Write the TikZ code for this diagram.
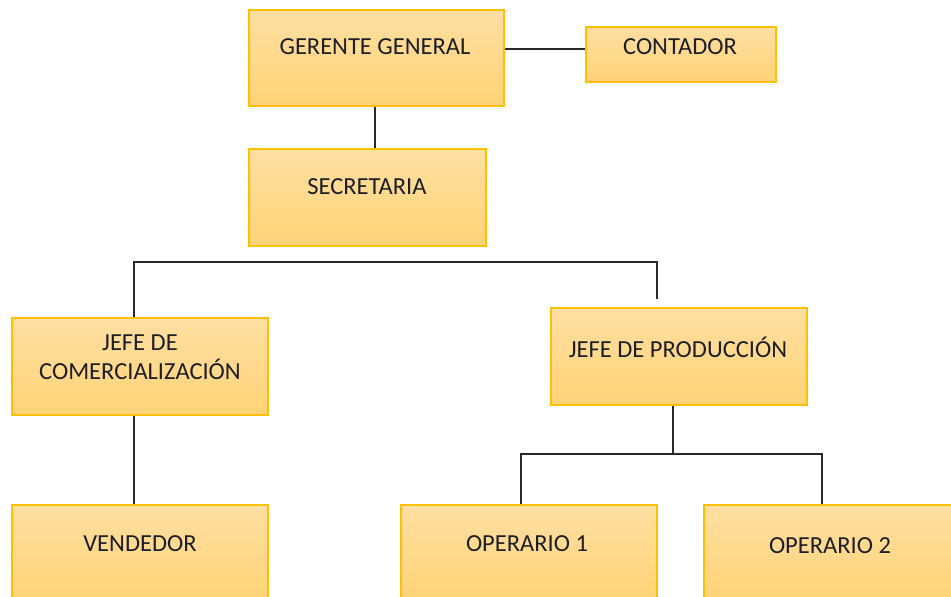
\documentclass[tikz,border=0pt]{standalone}
\usepackage{fontspec}
\setmainfont{Carlito}
\definecolor{boxtop}{RGB}{255,223,162}
\definecolor{boxbot}{RGB}{255,211,118}
\definecolor{boxline}{RGB}{255,192,0}
\definecolor{conn}{RGB}{40,40,40}
\definecolor{txt}{RGB}{30,30,40}
\tikzset{
  box/.style={rectangle, draw=boxline, line width=1.3pt, top color=boxtop, bottom color=boxbot, inner sep=0pt},
  lbl/.style={text=txt, font=\fontsize{24.5}{29}\selectfont, align=center, inner sep=0pt},
  link/.style={draw=conn, line width=1.8pt}
}
\begin{document}
\begin{tikzpicture}[x=1pt,y=-1pt]
\useasboundingbox (0,0) rectangle (951,597);
\clip (0,0) rectangle (951,597);
\fill[white] (0,0) rectangle (951,597);
% boxes
\node[box, minimum width=255pt, minimum height=96pt] (gg) at (376.5,58) {};
\node[box, minimum width=190pt, minimum height=55pt] (cont) at (681,54.5) {};
\node[box, minimum width=237pt, minimum height=97pt] (sec) at (367.5,197.5) {};
\node[box, minimum width=256pt, minimum height=97pt] (jc) at (140,366.5) {};
\node[box, minimum width=256pt, minimum height=97pt] (jp) at (679,356.5) {};
\node[box, minimum width=256pt, minimum height=97pt] (ven) at (140,553.5) {};
\node[box, minimum width=256pt, minimum height=97pt] (op1) at (529,553.5) {};
\node[box, minimum width=256pt, minimum height=97pt] (op2) at (832,553.5) {};
% labels
\node[lbl] (ggt) at (375,47) {GERENTE GENERAL};
\node[lbl] (contt) at (680,47) {CONTADOR};
\node[lbl] (sect) at (367,187) {SECRETARIA};
\node[lbl] (jct) at (140,357.5) {JEFE DE\\COMERCIALIZACIÓN};
\node[lbl] (jpt) at (678,347) {JEFE DE PRODUCCIÓN};
\node[lbl] (vent) at (140,544) {VENDEDOR};
\node[lbl] (op1t) at (527,544) {OPERARIO 1};
\node[lbl] (op2t) at (830,546) {OPERARIO 2};
% connector points
\coordinate (h) at (0,49);
\coordinate (g) at (375,0);
\coordinate (b1) at (134,262);
\coordinate (b2) at (657,262);
\coordinate (pe) at (657,299);
\coordinate (j) at (673,454);
\coordinate (o1) at (521,454);
\coordinate (o2) at (822,454);
% connectors
\draw[link] (gg.east |- h) -- (cont.west |- h);
\draw[link] (gg.south -| g) -- (sec.north -| g);
\draw[link] (jc.north -| b1) -- (b1) -- (b2) -- (pe);
\draw[link] (jc.south -| b1) -- (ven.north -| b1);
\draw[link] (jp.south -| j) -- (j);
\draw[link] (op1.north -| o1) -- (o1) -- (o2) -- (op2.north -| o2);
\end{tikzpicture}
\end{document}
